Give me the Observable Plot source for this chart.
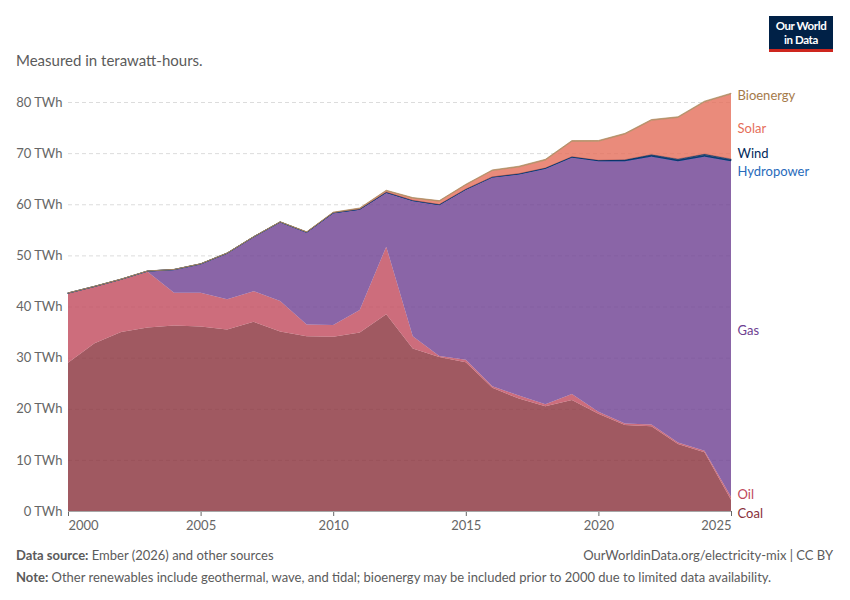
<!DOCTYPE html>
<html>
<head>
<meta charset="utf-8">
<script src="https://cdn.jsdelivr.net/npm/d3@7"></script>
<script src="https://cdn.jsdelivr.net/npm/@observablehq/plot@0.6"></script>
<style>
  html, body { margin: 0; padding: 0; background: #fff; }
  body { font-family: Lato, "Noto Sans", sans-serif; }
  #wrap { position: relative; width: 850px; height: 600px; overflow: hidden; }
  #subtitle { position: absolute; left: 16px; top: 51px; font-size: 15px; color: #5b5b5b; }
  #logo { position: absolute; left: 769px; top: 16px; width: 64px; height: 36px; background: #002147;
          border-bottom: 3px solid #ce261e; box-sizing: border-box; color: #fff; text-align: center;
          font-size: 11.5px; font-weight: 700; padding-top: 3px; letter-spacing: -0.4px; }
  #logo div { line-height: 14px; height: 14px; }
  #chart { position: absolute; left: 0; top: 80px; }
  .foot { position: absolute; font-size: 13px; color: #5b5b5b; white-space: nowrap; }
  .foot b { font-weight: 700; color: #5b5b5b; }
</style>
</head>
<body>
<div id="wrap">
  <div id="logo"><div>Our World</div><div>in Data</div></div>
  <div id="subtitle">Measured in terawatt-hours.</div>
  <div id="chart"></div>
  <div class="foot" style="left:16px; top:547px;"><b>Data source:</b> Ember (2026) and other sources</div>
  <div class="foot" style="right:17px; top:547px;">OurWorldinData.org/electricity-mix | CC BY</div>
  <div class="foot" style="left:16px; top:569px;"><b>Note:</b> Other renewables include geothermal, wave, and tidal; bioenergy may be included prior to 2000 due to limited data availability.</div>
</div>
<script>
const years = [2000,2001,2002,2003,2004,2005,2006,2007,2008,2009,2010,2011,2012,2013,2014,2015,2016,2017,2018,2019,2020,2021,2022,2023,2024,2025];
const coal = [29.0,32.8,35.0,35.9,36.3,36.1,35.5,37.0,35.1,34.2,34.1,34.9,38.5,31.8,30.1,29.1,24.1,22.0,20.5,21.7,19.0,16.8,16.6,13.1,11.5,2.2];
const oil = [13.6,11.1,10.3,10.9,6.4,6.6,5.9,6.0,6.0,2.3,2.3,4.4,13.2,2.4,0.2,0.5,0.3,0.6,0.4,1.2,0.4,0.3,0.3,0.3,0.3,0.6];
const gas = [0,0,0,0.1,4.5,5.6,9.0,10.6,15.4,18.0,21.9,19.7,10.6,26.5,29.6,33.3,40.9,43.3,46.1,46.3,49.1,51.4,52.5,55.1,57.6,65.7];
const hydropower = [0.03,0.03,0.03,0.03,0.03,0.03,0.03,0.03,0.03,0.03,0.03,0.03,0.03,0.03,0.03,0.03,0.03,0.03,0.03,0.03,0.02,0.02,0.02,0.02,0.02,0.02];
const wind = [0.01,0.01,0.01,0.01,0.01,0.01,0.01,0.01,0.01,0.01,0.01,0.01,0.01,0.01,0.01,0.01,0.02,0.06,0.06,0.07,0.1,0.2,0.3,0.35,0.4,0.35];
const solar = [0,0,0,0,0,0,0,0,0.01,0.03,0.06,0.15,0.3,0.45,0.65,0.85,1.25,1.3,1.55,3.0,3.7,5.0,6.7,8.1,10.2,12.7];
const bioenergy = [0.02,0.02,0.02,0.02,0.02,0.03,0.03,0.03,0.03,0.04,0.05,0.08,0.1,0.12,0.12,0.12,0.12,0.15,0.15,0.15,0.15,0.15,0.15,0.15,0.15,0.15];

const sources = ["Coal","Oil","Gas","Hydropower","Wind","Solar","Bioenergy"];
const seriesValues = [coal, oil, gas, hydropower, wind, solar, bioenergy];
const colors = ["#883039","#c0485b","#6d3e91","#286bbb","#00295b","#e56e5a","#a57a4a"];
const strokes = ["none","none","none","#286bbb","#00295b","none","#b08a60"];
const yTicks = [0,10,20,30,40,50,60,70,80];
const xTicks = [2000,2005,2010,2015,2020,2025];

const data = sources.flatMap((s, k) => years.map((yr, i) => ({year: yr, source: s, value: seriesValues[k][i], fill: colors[k], stroke: strokes[k]})));

// label positions at the last year: midpoint of each band, then de-overlapped
const last = years.length - 1;
let cum = 0;
const labels = sources.map((s, k) => {
  const v = seriesValues[k][last];
  const mid = cum + v / 2;
  cum += v;
  return {source: s, pos: mid, color: colors[k]};
});
const sep = 3.55;
for (let iter = 0; iter < 300; iter++) {
  for (let i = 1; i < labels.length; i++) {
    const a = labels[i - 1], b = labels[i];
    const d = b.pos - a.pos;
    if (d < sep) {
      const shift = (sep - d) / 2;
      a.pos -= shift; b.pos += shift;
    }
  }
  for (const l of labels) if (l.pos < 0) l.pos = 0;
}

const plot = Plot.plot({
  width: 850,
  height: 461,
  marginTop: 22,
  marginBottom: 30,
  marginLeft: 68,
  marginRight: 119,
  style: {fontFamily: "Lato, 'Noto Sans', sans-serif", fontSize: "13px", color: "#666", background: "transparent"},
  x: {domain: [years[0], years[last]], ticks: xTicks, tickFormat: d => String(d), tickSize: 5, label: null, line: false},
  y: {domain: [0, 80], ticks: yTicks, tickFormat: d => `${d} TWh`, tickSize: 0, tickPadding: 6, label: null},
  color: {type: "identity"},
  marks: [
    Plot.ruleY(yTicks.filter(d => d > 0), {stroke: "#dcdcdc", strokeDasharray: "4,3", strokeWidth: 1}),
    Plot.areaY(data, Plot.stackY({x: "year", y: "value", z: "source", fill: "fill", fillOpacity: 0.8, stroke: "stroke", strokeWidth: 0.7, order: null})),
    Plot.ruleY([0], {stroke: "#a6a6a6", strokeWidth: 1}),
    Plot.text(labels, {x: () => years[last], y: "pos", text: "source", fill: "color", dx: 6, dy: 2, textAnchor: "start", fontSize: 13, lineAnchor: "middle"})
  ]
});

document.getElementById("chart").appendChild(plot);

// nudge end tick labels inside the frame like the original
plot.querySelectorAll("text").forEach(t => {
  if (t.textContent === String(xTicks[0])) t.setAttribute("text-anchor", "start");
  if (t.textContent === String(xTicks[xTicks.length - 1])) t.setAttribute("text-anchor", "end");
});
</script>
</body>
</html>
